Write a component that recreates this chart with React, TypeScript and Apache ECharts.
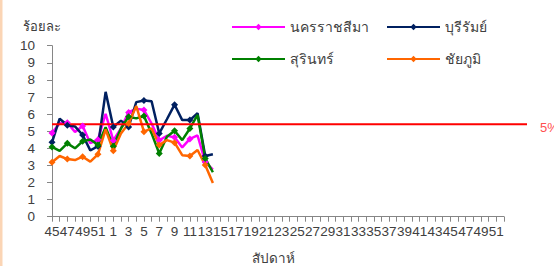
import React, { useEffect, useRef } from "react";
import * as echarts from "echarts";

const weeks = [
  "45", "46", "47", "48", "49", "50", "51", "52",
  "1", "2", "3", "4", "5", "6", "7", "8", "9", "10",
  "11", "12", "13", "14", "15", "16", "17", "18", "19", "20",
  "21", "22", "23", "24", "25", "26", "27", "28", "29", "30",
  "31", "32", "33", "34", "35", "36", "37", "38", "39", "40",
  "41", "42", "43", "44", "45", "46", "47", "48", "49", "50",
  "51", "52",
];

const nakhonRatchasima = [4.9, 5.46, 5.5, 4.95, 5.3, 4.3, 4.5, 6.02, 4.46, 5.17, 6.1, 6.32, 6.24, 5.45, 4.47, 4.73, 4.64, 4.05, 4.55, 4.75, 3.2, 2.75];
const buriram = [4.35, 5.73, 5.35, 5.28, 4.78, 3.88, 4.12, 7.3, 5.25, 5.62, 5.25, 6.7, 6.8, 6.75, 4.87, 5.7, 6.55, 5.65, 5.65, 6.05, 3.55, 3.65];
const surin = [4.08, 3.85, 4.29, 4.0, 4.41, 4.51, 4.2, 5.23, 4.12, 5.16, 5.85, 5.75, 5.89, 4.87, 3.7, 4.68, 5.03, 4.48, 5.16, 5.95, 3.41, 2.6];
const chaiyaphum = [3.18, 3.55, 3.37, 3.31, 3.51, 3.22, 3.65, 5.1, 3.86, 4.87, 5.45, 6.47, 4.97, 5.16, 4.19, 4.48, 4.33, 3.6, 3.55, 3.9, 3.02, 1.97];

const thresholdValue = 5.4;
const thresholdLabel = "5%";

const seriesNames = ["นครราชสีมา", "บุรีรัมย์", "สุรินทร์", "ชัยภูมิ"];
const seriesColors = ["#ff00ff", "#002060", "#008000", "#ff6600"];
const seriesData = [nakhonRatchasima, buriram, surin, chaiyaphum];

const FONT = "Tahoma, 'Liberation Sans', 'DejaVu Sans', sans-serif";

export default function App() {
  const ref = useRef<HTMLDivElement>(null);
  useEffect(() => {
    document.body.style.margin = "0";
    const chart = echarts.init(ref.current!, undefined, { renderer: "svg" });
    const axisColor = "#868686";
    const textColor = "#404040";
    const legendPos = [
      { left: 231, top: 20 },
      { left: 386, top: 20 },
      { left: 231, top: 52 },
      { left: 386, top: 52 },
    ];
    chart.setOption({
      animation: false,
      backgroundColor: "#ffffff",
      textStyle: { fontFamily: FONT },
      grid: [
        { left: 52, right: 50, top: 45.7, bottom: 49.3, containLabel: false },
        { left: 52, right: 27, top: 45.7, bottom: 49.3, containLabel: false },
      ],
      legend: seriesNames.map((n, i) => ({
        data: [n],
        left: legendPos[i].left,
        top: legendPos[i].top,
        itemWidth: 53,
        itemHeight: 8,
        itemGap: 0,
        padding: 0,
        selectedMode: false,
        textStyle: { fontSize: 14, color: textColor, fontFamily: FONT },
      })),
      xAxis: [
        {
          type: "category",
          gridIndex: 0,
          data: weeks,
          boundaryGap: false,
          axisLine: { lineStyle: { color: axisColor, width: 1 } },
          axisTick: { show: true, interval: 0, length: 5, lineStyle: { color: axisColor } },
          axisLabel: { interval: 1, margin: 8, fontSize: 13.5, color: textColor, fontFamily: FONT },
          splitLine: { show: false },
        },
        { type: "value", gridIndex: 1, min: 0, max: 1, show: false },
      ],
      yAxis: [
        {
          type: "value",
          gridIndex: 0,
          min: 0,
          max: 10,
          interval: 1,
          axisLine: { show: true, lineStyle: { color: axisColor, width: 1 } },
          axisTick: { show: true, length: 5, lineStyle: { color: axisColor } },
          axisLabel: { margin: 17, fontSize: 13.5, color: textColor, fontFamily: FONT },
          splitLine: { show: false },
        },
        { type: "value", gridIndex: 1, min: 0, max: 10, show: false },
      ],
      graphic: [
        { type: "rect", left: 0, top: 0, shape: { width: 2.5, height: 266 }, style: { fill: "#fbd5b5" } },
        {
          type: "text",
          left: 23,
          top: 20,
          style: { text: "ร้อยละ", fontSize: 13, fill: textColor, fontFamily: FONT },
        },
        {
          type: "text",
          left: 252,
          top: 251,
          style: { text: "สัปดาห์", fontSize: 13.5, fill: textColor, fontFamily: FONT },
        },
      ],
      series: [
        ...seriesNames.map((n, i) => ({
          name: n,
          type: "line",
          xAxisIndex: 0,
          yAxisIndex: 0,
          data: seriesData[i],
          symbol: "diamond",
          symbolSize: 7,
          lineStyle: { color: seriesColors[i], width: 2.5 },
          itemStyle: { color: seriesColors[i] },
          emphasis: { disabled: true },
        })),
        {
          name: "threshold",
          type: "line",
          xAxisIndex: 1,
          yAxisIndex: 1,
          data: [[0, thresholdValue], [1, thresholdValue]],
          symbol: "none",
          lineStyle: { color: "#ff0000", width: 2 },
          endLabel: {
            show: true,
            formatter: thresholdLabel,
            color: "#ff5050",
            fontSize: 13,
            distance: 13,
            offset: [0, 3],
            fontFamily: FONT,
          },
          emphasis: { disabled: true },
        },
      ],
    });
    return () => chart.dispose();
  }, []);
  return (
    <div
      ref={ref}
      style={{ position: "absolute", left: 0, top: 0, width: 554, height: 266 }}
    />
  );
}
